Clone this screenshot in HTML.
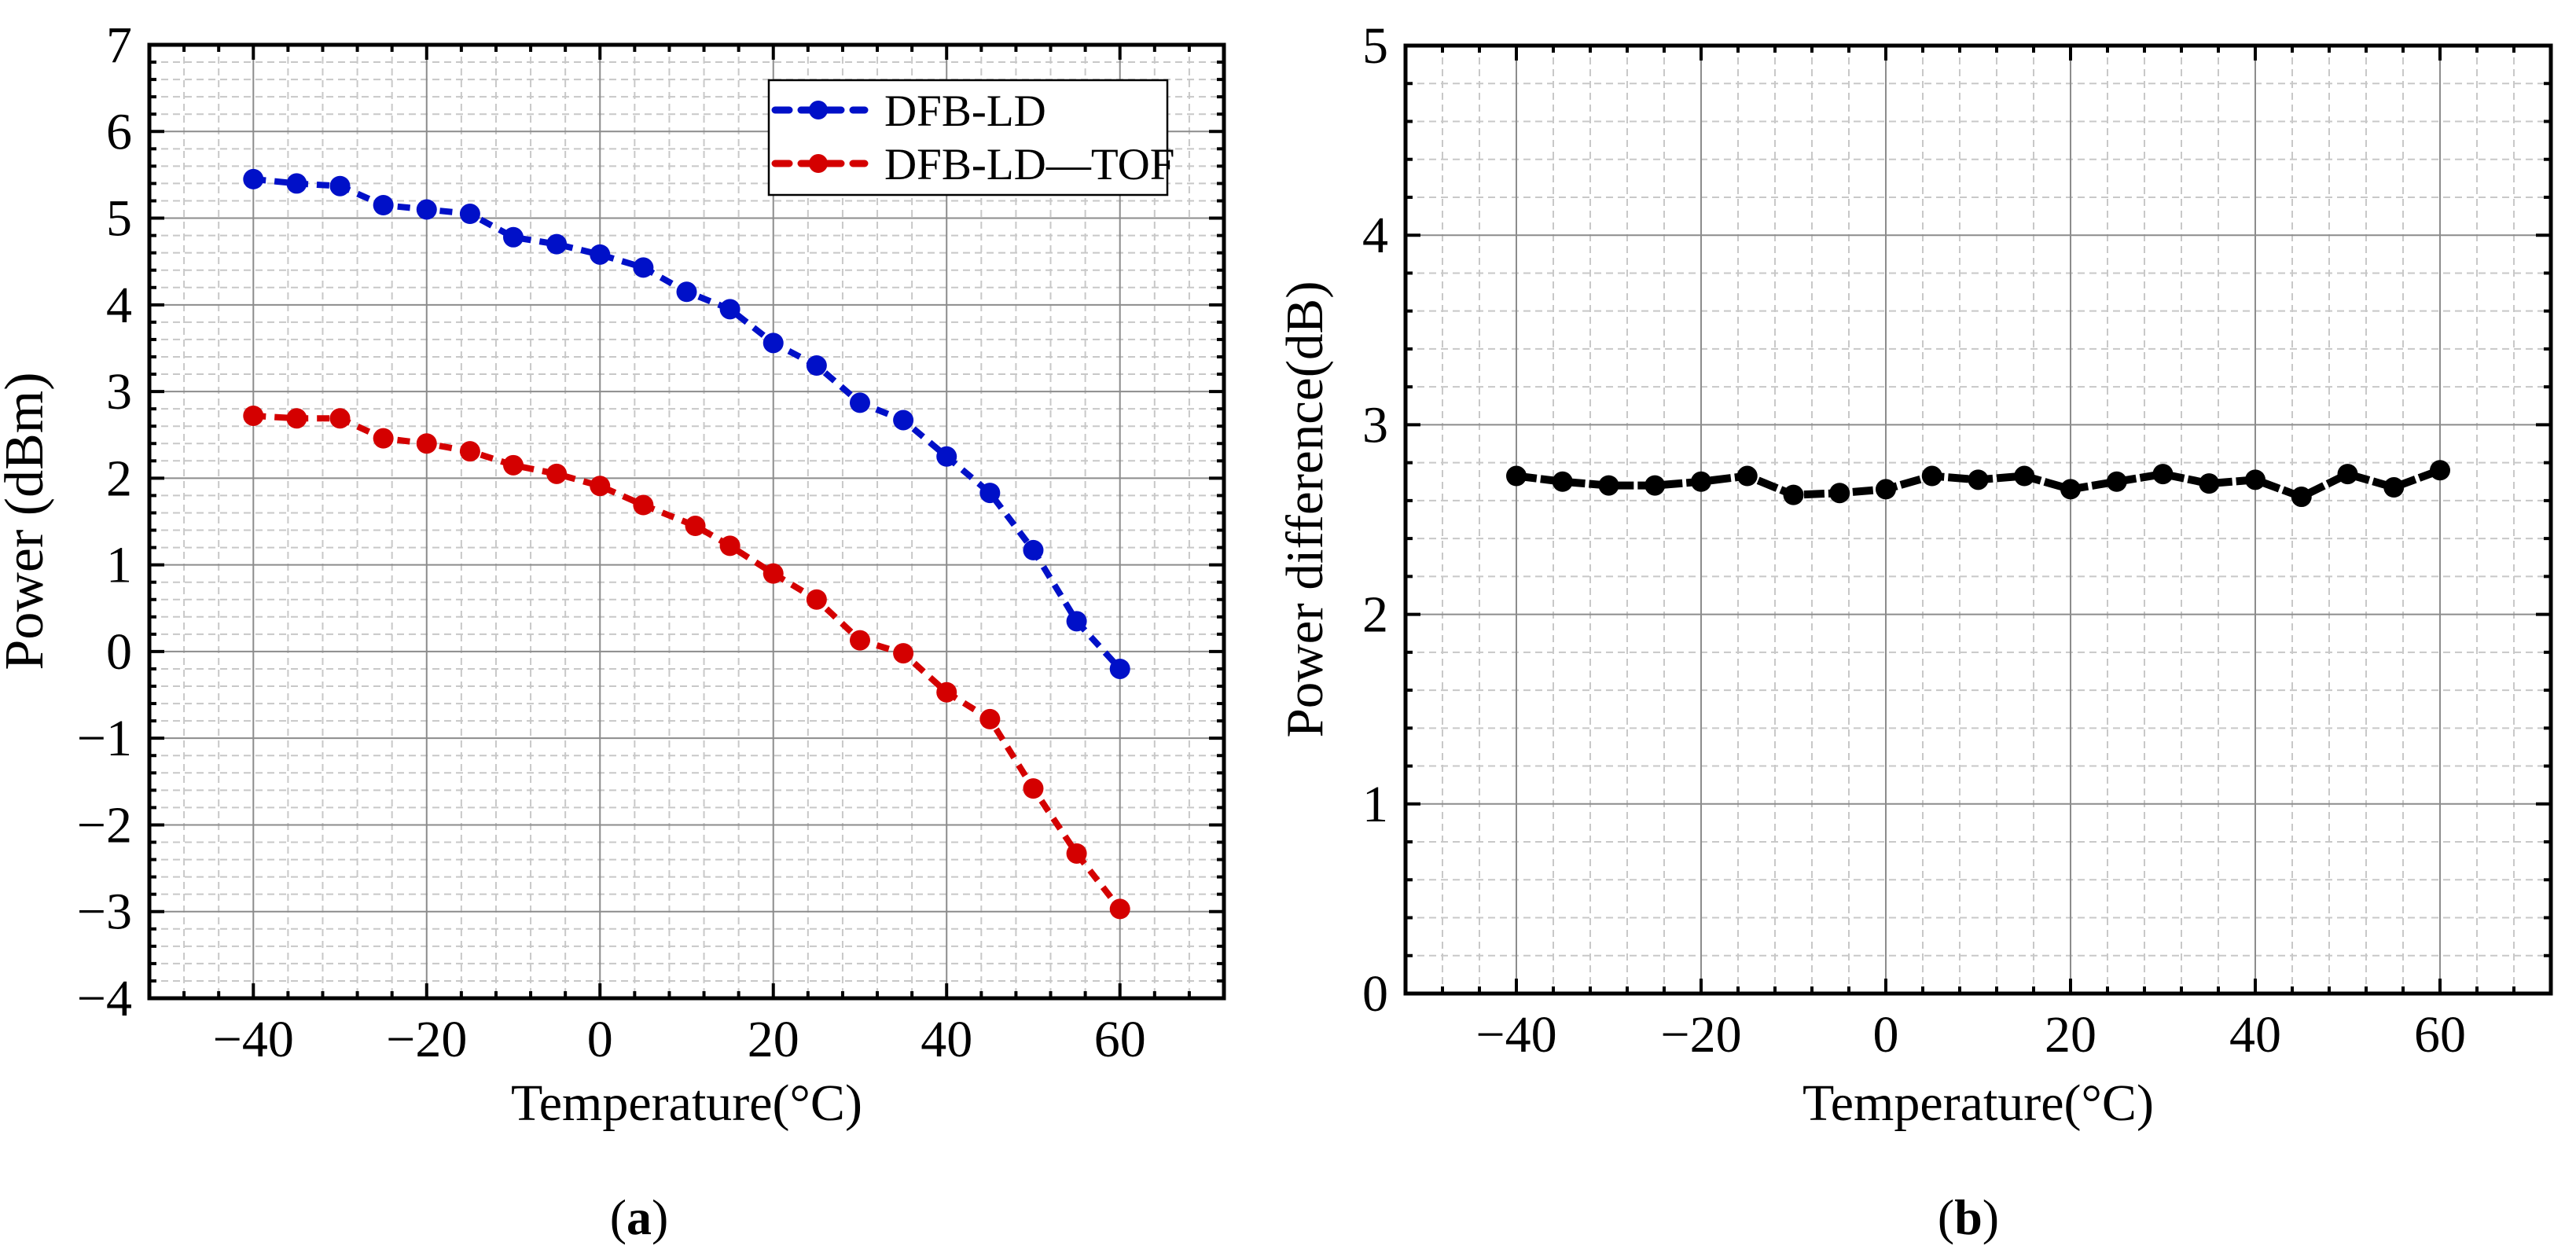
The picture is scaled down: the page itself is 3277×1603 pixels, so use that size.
<!DOCTYPE html>
<html><head><meta charset="utf-8"><style>
html,body{margin:0;padding:0;background:#fff;}
svg{display:block;}
text{font-family:"Liberation Serif","Times New Roman",serif;fill:#000;}
</style></head><body>
<svg id="fig" width="3277" height="1603" viewBox="0 0 3277 1603" xmlns="http://www.w3.org/2000/svg">
<rect width="3277" height="1603" fill="#fff"/>
</svg>
<script>
const temps = [-40,-35,-30,-25,-20,-15,-10,-5,0,5,10,15,20,25,30,35,40,45,50,55,60];
const tempsRed = [-40,-35,-30,-25,-20,-15,-10,-5,0,5,11,15,20,25,30,35,40,45,50,55,60];
const dfbLD = [5.45,5.40,5.37,5.15,5.10,5.05,4.78,4.70,4.58,4.43,4.15,3.95,3.56,3.30,2.87,2.67,2.25,1.83,1.17,0.35,-0.20];
const dfbTOF = [2.72,2.69,2.69,2.46,2.40,2.31,2.15,2.05,1.91,1.69,1.45,1.22,0.90,0.60,0.13,-0.02,-0.47,-0.78,-1.58,-2.33,-2.97];
const powerDiff = [2.73,2.70,2.68,2.68,2.70,2.73,2.63,2.64,2.66,2.73,2.71,2.73,2.66,2.70,2.74,2.69,2.71,2.62,2.74,2.67,2.76];
const xTicks = [-40,-20,0,20,40,60];
const yTicksA = [-4,-3,-2,-1,0,1,2,3,4,5,6,7];
const yTicksB = [0,1,2,3,4,5];

const NS='http://www.w3.org/2000/svg';
const svg=document.getElementById('fig');
function mk(tag,attrs,parent){const e=document.createElementNS(NS,tag);for(const k in attrs)e.setAttribute(k,attrs[k]);(parent||svg).appendChild(e);return e;}
function fmt(v){return v<0?'\u2212'+Math.abs(v):String(v);}

function panel(cfg){
  const g=mk('g',{});
  
  
  const {L,R,T,B,xmin,xmax,ymin,ymax}=cfg;
  const sx=v=>L+(v-xmin)/(xmax-xmin)*(R-L);
  const sy=v=>B-(v-ymin)/(ymax-ymin)*(B-T);
  for(let v=-52;v<=72;v+=4){ if(v%20===0) continue; const x=sx(v);
    const l=mk('line',{x1:x,x2:x,y1:T,y2:B,stroke:'#c8c8c8','stroke-width':2,'stroke-dasharray':'9 6'},g);
    }
  for(let i=0;i<=Math.round((ymax-ymin)/0.2);i++){const v=ymin+i*0.2; if(i%5===0) continue; const y=sy(v);
    const l=mk('line',{x1:L,x2:R,y1:y,y2:y,stroke:'#c8c8c8','stroke-width':2,'stroke-dasharray':'9 6'},g);
    }
  xTicks.forEach(v=>{const x=sx(v);const l=mk('line',{x1:x,x2:x,y1:T,y2:B,stroke:'#8c8c8c','stroke-width':2},g);
    });
  cfg.yTicks.forEach(v=>{const y=sy(v);const l=mk('line',{x1:L,x2:R,y1:y,y2:y,stroke:'#8c8c8c','stroke-width':2},g);
    });
  for(let v=-52;v<=72;v+=4){const x=sx(v);const len=(v%20===0)?19:9;
    mk('line',{x1:x,x2:x,y1:B,y2:B-len,stroke:'#000','stroke-width':4},g);
    mk('line',{x1:x,x2:x,y1:T,y2:T+len,stroke:'#000','stroke-width':4},g);}
  for(let i=0;i<=Math.round((ymax-ymin)/0.2);i++){const y=sy(ymin+i*0.2);const len=(i%5===0)?19:9;
    mk('line',{x1:L,x2:L+len,y1:y,y2:y,stroke:'#000','stroke-width':4},g);
    mk('line',{x1:R,x2:R-len,y1:y,y2:y,stroke:'#000','stroke-width':4},g);}
  const f=mk('rect',{x:L,y:T,width:R-L,height:B-T,fill:'none',stroke:'#000','stroke-width':5},g);
  
  xTicks.forEach(v=>{const t=mk('text',{x:sx(v),y:B+74,'font-size':66,'text-anchor':'middle'},g);t.textContent=fmt(v);
    });
  cfg.yTicks.forEach(v=>{const t=mk('text',{x:L-22,y:sy(v)+22,'font-size':66,'text-anchor':'end'},g);t.textContent=fmt(v);
    });
  const xt=mk('text',{x:(L+R)/2,y:1425,'font-size':66,'text-anchor':'middle'},g);xt.textContent='Temperature(\u00B0C)';
  
  const yt=mk('text',{x:0,y:0,'font-size':cfg.ylfs,'text-anchor':'middle',transform:`translate(${cfg.ylx},${cfg.yly}) rotate(-90)`},g);yt.textContent=cfg.ylabel;
  
  const cap=mk('text',{x:cfg.capx,y:1570,'font-size':64,'text-anchor':'middle'},g);
  cap.innerHTML='(<tspan font-weight="bold">'+cfg.cap+'</tspan>)';
  
  cfg.series.forEach(s=>{
    const pts=s.xs.map((x,i)=>sx(x)+','+sy(s.ys[i])).join(' ');
    const pl=mk('polyline',{points:pts,fill:'none',stroke:s.color,'stroke-width':s.w,'stroke-dasharray':s.dash,'stroke-linejoin':'round'},g);
    
    s.xs.forEach((x,i)=>{const c=mk('circle',{cx:sx(x),cy:sy(s.ys[i]),r:13,fill:s.color},g);
      });
  });
  return {g,sx,sy};
}

panel({name:'panel-a',L:190,R:1557,T:57,B:1270,xmin:-52,xmax:72,ymin:-4,ymax:7,yTicks:yTicksA,
  ylabel:'Power (dBm)',ylfs:70,ylx:54,yly:663,cap:'a',capx:813,
  series:[{name:'dfb-ld',xs:temps,ys:dfbLD,color:'#0010c8',dash:'16 11',w:8},
          {name:'dfb-ld-tof',xs:tempsRed,ys:dfbTOF,color:'#d40000',dash:'16 11',w:8}]});
panel({name:'panel-b',L:1788,R:3245,T:58,B:1264,xmin:-52,xmax:72,ymin:0,ymax:5,yTicks:yTicksB,
  ylabel:'Power difference(dB)',ylfs:67,ylx:1682,yly:648,cap:'b',capx:2504,
  series:[{name:'power-difference',xs:temps,ys:powerDiff,color:'#000',dash:'26 5',w:10}]});

const lg=mk('g',{});


mk('rect',{x:978,y:102,width:507,height:146,fill:'#fff',stroke:'#000','stroke-width':2.5},lg);
[['DFB-LD','#0010c8',140],['DFB-LD\u2014TOF','#d40000',208]].forEach(([lab,col,y])=>{
  const e=mk('g',{},lg);
  
  
  mk('line',{x1:986,x2:1100,y1:y,y2:y,stroke:col,'stroke-width':9,'stroke-dasharray':'18 15','stroke-linecap':'round'},e);
  mk('circle',{cx:1041,cy:y,r:12,fill:col},e);
  const t=mk('text',{x:1125,y:y+20,'font-size':57},e);t.textContent=lab;
});
</script>
</body></html>
